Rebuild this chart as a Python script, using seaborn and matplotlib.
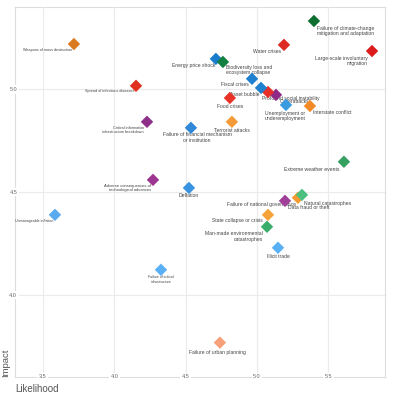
import matplotlib
matplotlib.use("Agg")
import matplotlib.pyplot as plt
import seaborn as sns
import pandas as pd

# Dados
riscos = [
    "Weapons of mass destruction", "Spread of infectious diseases",
    "Critical information\ninfrastructure breakdown",
    "Failure of financial mechanism\nor institution",
    "Adverse consequences of\ntechnological advances", "Deflation",
    "Unmanageable inflation", "Failure of critical\ninfrastructure",
    "Failure of urban planning", "Illicit trade",
    "Man-made environmental\ncatastrophes", "State collapse or crisis",
    "Data fraud or theft", "Failure of national governance",
    "Natural catastrophes", "Extreme weather events", "Terrorist attacks",
    "Interstate conflict", "Unemployment or\nunderemployment", "Cyberattacks",
    "Profound social instability", "Asset bubble", "Fiscal crises",
    "Food crises", "Energy price shock",
    "Biodiversity loss and\necosystem collapse", "Water crises",
    "Failure of climate-change\nmitigation and adaptation",
    "Large-scale involuntary\nmigration",
]
likelihood = [3.717, 4.152, 4.229, 4.537, 4.271, 4.523, 3.584, 4.327, 4.740,
              5.147, 5.070, 5.077, 5.196, 5.287, 5.315, 5.609, 4.824, 5.371,
              5.203, 5.133, 5.077, 5.028, 4.965, 4.810, 4.712, 4.761, 5.189,
              5.399, 5.806]
impact = [5.218, 5.015, 4.840, 4.811, 4.558, 4.519, 4.388, 4.121, 3.767,
          4.228, 4.330, 4.388, 4.456, 4.471, 4.485, 4.646, 4.840, 4.917,
          4.922, 4.971, 4.985, 5.005, 5.049, 4.956, 5.146, 5.131, 5.214,
          5.330, 5.184]
cores = ["#d97a1f", "#e0301e", "#8e2f8a", "#3088d8", "#9b3590", "#3a93e0",
         "#5aaaf0", "#5aaff5", "#f7a07a", "#5ab0f5", "#3aad6a", "#f6a23a",
         "#a0409a", "#f49a30", "#4abf80", "#35a060", "#f59a38", "#f38a28",
         "#3a9be0", "#8e2a85", "#e8302a", "#2080d0", "#1f80d0", "#e83228",
         "#1a7ccc", "#128040", "#dd2a22", "#0e6e30", "#dc1c1c"]

# Posição dos rótulos (dx, dy em pixels, alinhamento, tamanho)
rotulos = [
    (-2, -6, "right", 2.7), (-2, -5, "right", 2.7), (-3, -8, "right", 2.7),
    (6, -10, "center", 3.6), (-2, -8, "right", 3.0), (0, -8, "center", 3.6),
    (-2, -6, "right", 2.6), (0, -10, "center", 2.5), (26, -10, "right", 3.6),
    (0, -9, "center", 3.6), (-4, -10, "right", 3.6), (-5, -6, "right", 3.6),
    (3, -7, "left", 3.6), (-2, -7, "right", 3.6), (2, -9, "left", 3.6),
    (-4, -8, "right", 3.7), (0, -9, "center", 3.6), (3, -7, "left", 3.6),
    (-1, -11, "center", 3.6), (4, -7, "left", 3.6), (-6, -7, "left", 3.6),
    (-2, -7, "right", 3.6), (-3, -6, "right", 3.6), (0, -9, "center", 3.6),
    (-1, -7, "right", 3.6), (3, -8, "left", 3.6), (-3, -7, "right", 3.6),
    (3, -10, "left", 3.6), (-4, -10, "right", 3.6),
]

df = pd.DataFrame({"Risco": riscos, "Likelihood": likelihood, "Impact": impact})

sns.set_style("whitegrid")
plt.rcParams["font.family"] = ["Liberation Sans", "DejaVu Sans"]

fig = plt.figure(figsize=(4, 4), dpi=100)
ax = fig.add_axes([0.0375, 0.0575, 0.925, 0.925])

sns.scatterplot(data=df, x="Likelihood", y="Impact", hue="Risco",
                palette=dict(zip(riscos, cores)), marker="D", s=40,
                linewidth=0, legend=False, ax=ax, zorder=3)

for nome, x, y, (dx, dy, ha, tam) in zip(riscos, likelihood, impact, rotulos):
    ax.annotate(nome, (x, y), xytext=(dx, dy), textcoords="offset pixels",
                ha=ha, va="center", multialignment=ha,
                fontsize=tam, color="#444444", zorder=2)

ax.set_xlim(3.304, 5.897)
ax.set_ylim(3.60, 5.398)
ax.set_xticks([3.5, 4.0, 4.5, 5.0, 5.5])
ax.set_yticks([4.0, 4.5, 5.0])
ax.grid(color="#ebebeb", linewidth=0.8)
for lado in ax.spines.values():
    lado.set_color("#dddddd")
    lado.set_linewidth(0.8)
    lado.set_zorder(0.1)

ax.tick_params(axis="both", length=0, labelsize=4, labelcolor="#666666")
ax.tick_params(axis="x", pad=-2)
ax.tick_params(axis="y", pad=-1.5)
for t in ax.get_xticklabels() + ax.get_yticklabels():
    t.set_bbox(dict(facecolor="white", edgecolor="none", pad=1.2))

ax.set_xlabel("Likelihood", loc="left", fontsize=7, color="#555555")
ax.set_ylabel("Impact", loc="bottom", fontsize=6.8, color="#555555")
ax.xaxis.set_label_coords(0, -0.018)
ax.yaxis.set_label_coords(-0.013, 0)

plt.savefig("out.png", dpi=100)
